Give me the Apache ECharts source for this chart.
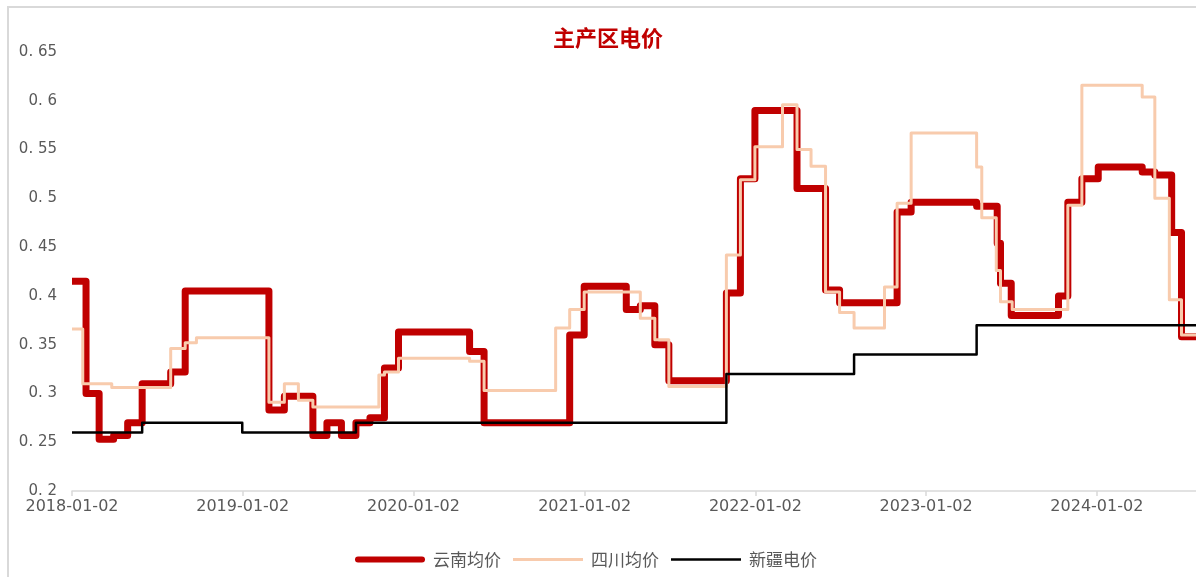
<!DOCTYPE html>
<html>
<head>
<meta charset="utf-8">
<script src="https://cdn.jsdelivr.net/npm/echarts@6/dist/echarts.min.js"></script>
<style>
  html, body { margin: 0; padding: 0; background: #ffffff; }
  #chart { width: 1196px; height: 577px; }
</style>
</head>
<body>
<div id="chart"></div>
<script>
// Electricity prices in the main producing regions (yuan/kWh), step changes by date
const titleText = '主产区电价';
const seriesNames = ['云南均价', '四川均价', '新疆电价'];
const tickLabels = ['2018-01-02', '2019-01-02', '2020-01-02', '2021-01-02', '2022-01-02', '2023-01-02', '2024-01-02'];
const axisStart = '2018-01-02';
const axisEnd = '2024-08-01';

const yunnanDates = [
  '2018-01-02', '2018-02-01', '2018-03-01', '2018-04-01', '2018-05-01', '2018-06-01', '2018-08-01', '2018-09-01',
  '2019-02-27', '2019-04-01', '2019-06-01', '2019-07-01', '2019-08-01', '2019-09-01', '2019-10-01', '2019-11-01', '2019-12-01',
  '2020-05-01', '2020-06-01', '2020-12-01',
  '2021-01-01', '2021-04-01', '2021-05-01', '2021-06-01', '2021-07-01', '2021-11-01', '2021-12-01',
  '2022-01-01', '2022-04-01', '2022-06-01', '2022-07-01', '2022-11-01', '2022-12-01',
  '2023-04-20', '2023-06-03', '2023-06-10', '2023-07-03', '2023-10-12', '2023-11-01', '2023-12-01',
  '2024-01-05', '2024-04-08', '2024-05-05', '2024-06-10', '2024-07-01', '2024-08-01'
];
const yunnanValues = [
  0.415, 0.300, 0.253, 0.257, 0.270, 0.310, 0.322, 0.405,
  0.283, 0.297, 0.257, 0.270, 0.257, 0.270, 0.275, 0.326, 0.363,
  0.343, 0.270, 0.360,
  0.410, 0.386, 0.390, 0.350, 0.313, 0.403, 0.520,
  0.590, 0.510, 0.406, 0.393, 0.486, 0.496,
  0.492, 0.454, 0.413, 0.380, 0.400, 0.496, 0.520,
  0.532, 0.527, 0.524, 0.465, 0.358, 0.358
];

const sichuanDates = [
  '2018-01-02', '2018-01-25', '2018-03-28', '2018-08-01', '2018-09-01', '2018-09-25',
  '2019-02-27', '2019-04-01', '2019-05-01', '2019-06-01', '2019-10-20', '2019-11-01', '2019-12-01',
  '2020-05-01', '2020-06-01', '2020-11-01', '2020-12-01',
  '2021-01-01', '2021-05-01', '2021-06-01', '2021-07-01', '2021-11-01', '2021-12-01',
  '2022-01-01', '2022-03-01', '2022-04-01', '2022-05-01', '2022-06-01', '2022-07-01', '2022-08-01', '2022-10-05', '2022-11-01', '2022-12-01',
  '2023-04-20', '2023-05-01', '2023-06-01', '2023-06-10', '2023-07-05', '2023-11-01', '2023-12-01',
  '2024-04-08', '2024-05-05', '2024-06-05', '2024-07-01', '2024-08-01'
];
const sichuanValues = [
  0.366, 0.310, 0.306, 0.346, 0.352, 0.357,
  0.291, 0.310, 0.293, 0.286, 0.319, 0.322, 0.336,
  0.333, 0.303, 0.367, 0.386,
  0.404, 0.377, 0.355, 0.307, 0.442, 0.519,
  0.553, 0.596, 0.550, 0.533, 0.404, 0.383, 0.367, 0.409, 0.495, 0.567,
  0.532, 0.480, 0.426, 0.394, 0.386, 0.493, 0.616,
  0.604, 0.500, 0.396, 0.360, 0.360
];

const xinjiangDates = ['2018-01-02', '2018-06-01', '2019-01-01', '2019-09-01', '2021-11-01', '2022-08-01', '2023-04-20', '2024-08-01'];
const xinjiangValues = [0.26, 0.27, 0.26, 0.27, 0.32, 0.34, 0.37, 0.37];

const seriesColors = ['#C00000', '#F8CBAD', '#000000'];
const seriesWidths = [7, 3, 2.5];
// legend swatches: flat bars whose height follows each line's weight
const legendIcons = [
  'path://M3,0H67A3,3 0 0 1 67,6H3A3,3 0 0 1 3,0Z',
  'path://M0,0H70V3H0Z',
  'path://M0,0H70V2.5H0Z'
];

// dates -> UTC timestamps so the value axis is a linear calendar scale
const ts = s => Date.parse(s + 'T00:00:00Z');
const pad = n => (n < 10 ? '0' : '') + n;
const fmtDate = v => {
  const d = new Date(v);
  return d.getUTCFullYear() + '-' + pad(d.getUTCMonth() + 1) + '-' + pad(d.getUTCDate());
};
function pairs(dates, values) {
  return dates.map((d, i) => [ts(d), values[i]]);
}

const chart = echarts.init(document.getElementById('chart'));
const tickValues = tickLabels.map(ts);
const sources = [
  pairs(yunnanDates, yunnanValues),
  pairs(sichuanDates, sichuanValues),
  pairs(xinjiangDates, xinjiangValues)
];

chart.setOption({
  animation: false,
  backgroundColor: '#ffffff',
  graphic: [{
    type: 'rect',
    shape: { x: 8, y: 7, width: 1210, height: 600 },
    style: { fill: 'none', stroke: '#d9d9d9', lineWidth: 2 },
    silent: true,
    z: -1
  }],
  title: {
    text: titleText,
    left: 548,
    top: 22,
    textStyle: {
      color: '#C00000',
      fontSize: 22,
      fontWeight: 'bold',
      fontFamily: 'Noto Sans CJK SC'
    }
  },
  legend: {
    bottom: 4,
    left: 350,
    itemWidth: 70,
    itemHeight: 14,
    itemGap: 12,
    symbolKeepAspect: true,
    data: seriesNames.map((name, i) => ({ name: name, icon: legendIcons[i] })),
    textStyle: { color: '#595959', fontSize: 17, fontFamily: 'Noto Sans CJK SC', padding: [0, 0, 0, 3] }
  },
  grid: { left: 72, right: 0, top: 52, bottom: 86 },
  xAxis: {
    type: 'value',
    min: ts(axisStart),
    max: ts(axisEnd),
    axisLine: { show: true, lineStyle: { color: '#d9d9d9', width: 1.5 } },
    axisTick: { show: true, customValues: tickValues, length: 5, lineStyle: { color: '#d9d9d9', width: 1.5 } },
    axisLabel: {
      customValues: tickValues,
      color: '#595959',
      fontSize: 16,
      fontFamily: 'DejaVu Sans',
      margin: 8,
      formatter: v => fmtDate(v)
    },
    splitLine: { show: false }
  },
  yAxis: {
    type: 'value',
    min: 0.2,
    max: 0.65,
    interval: 0.05,
    axisLine: { show: false },
    axisTick: { show: false },
    splitLine: { show: false },
    axisLabel: {
      color: '#595959',
      fontSize: 15,
      fontFamily: 'DejaVu Sans',
      margin: 15,
      formatter: v => String(+v.toFixed(2)).replace('.', '. ')
    }
  },
  series: seriesNames.map((name, i) => ({
    name: name,
    type: 'line',
    step: 'end',
    symbol: 'none',
    showSymbol: false,
    data: sources[i],
    color: seriesColors[i],
    lineStyle: { color: seriesColors[i], width: seriesWidths[i], join: 'round' },
    z: 2 + i
  }))
});
</script>
</body>
</html>
